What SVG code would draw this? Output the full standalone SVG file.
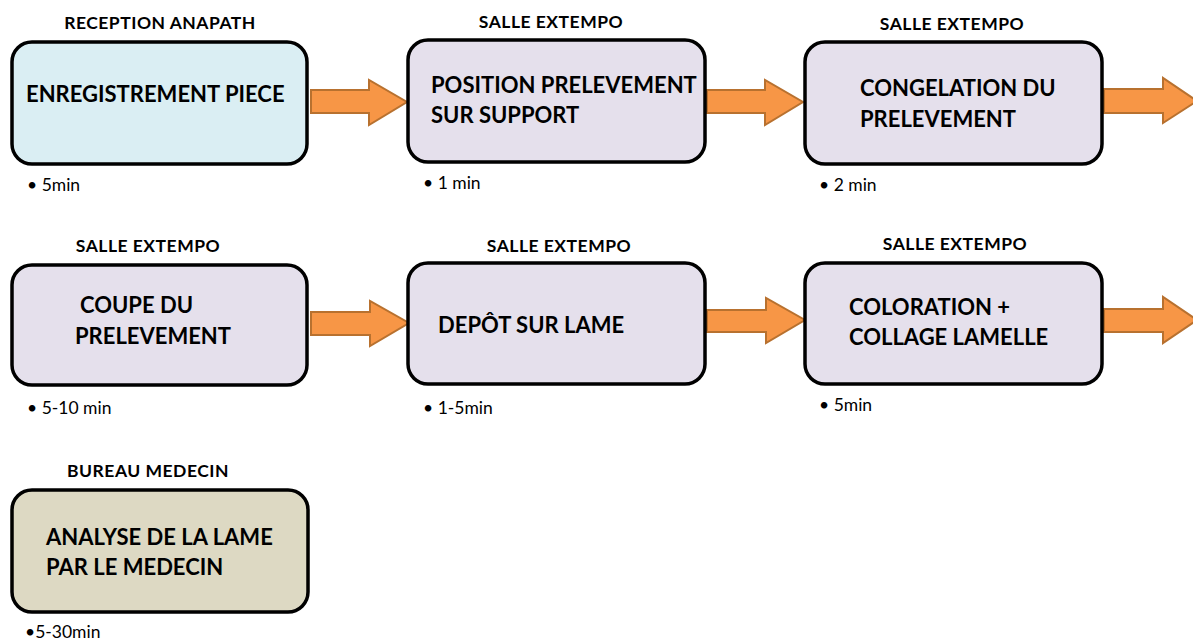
<svg xmlns="http://www.w3.org/2000/svg" width="1193" height="642" viewBox="0 0 1193 642">
<defs>
<style>
.box{stroke:#000;stroke-width:3.5}
.blue{fill:#DAEEF3}
.lav{fill:#E5E0EC}
.tan{fill:#DDD9C3}
.loc{font-family:Lato,"Liberation Sans",sans-serif;font-weight:bold;font-size:17.5px;letter-spacing:0.5px;fill:#000;text-anchor:middle}
.main{font-family:Lato,"Liberation Sans",sans-serif;font-weight:bold;font-size:22px;fill:#000}
.dur{font-family:Lato,"Liberation Sans",sans-serif;font-size:17.5px;fill:#000}
.arr{fill:#F79646;stroke:#B8712F;stroke-width:2;stroke-linejoin:miter}
</style>
</defs>
<rect width="1193" height="642" fill="#fff"/>
<g id="connectors">
<path class="arr" d="M311,90 H369 V80 L407,102 L369,125 V113 H311 Z"/>
<path class="arr" d="M707,90 H765 V80 L803,102 L765,125 V113 H707 Z"/>
<path class="arr" d="M1104,89 H1163 V78 L1197,101 L1163,123 V113 H1104 Z"/>
<path class="arr" d="M311,312 H370 V301 L409,323 L370,346 V335 H311 Z"/>
<path class="arr" d="M707,310 H766 V298 L805,320 L766,343 V332 H707 Z"/>
<path class="arr" d="M1104,309 H1163 V297 L1197,320 L1163,343 V332 H1104 Z"/>
</g>
<g id="n1">
<text class="loc" x="160" y="29">RECEPTION ANAPATH</text>
<rect class="box blue" x="12" y="42" width="295" height="122" rx="20"/>
<text class="main" x="26" y="102">ENREGISTREMENT PIECE</text>
<text class="dur" x="27" y="191">• 5min</text>
</g>
<g id="n2">
<text class="loc" x="551" y="28">SALLE EXTEMPO</text>
<rect class="box lav" x="408" y="40" width="297" height="122" rx="20"/>
<text class="main" x="431" y="93">POSITION PRELEVEMENT</text>
<text class="main" x="431" y="123">SUR SUPPORT</text>
<text class="dur" x="423" y="189">• 1 min</text>
</g>
<g id="n3">
<text class="loc" x="952" y="30">SALLE EXTEMPO</text>
<rect class="box lav" x="805" y="42" width="297" height="122" rx="20"/>
<text class="main" x="860" y="96">CONGELATION DU</text>
<text class="main" x="860" y="127">PRELEVEMENT</text>
<text class="dur" x="819" y="191">• 2 min</text>
</g>
<g id="n4">
<text class="loc" x="148" y="252">SALLE EXTEMPO</text>
<rect class="box lav" x="12" y="265" width="295" height="120" rx="20"/>
<text class="main" x="80" y="313">COUPE DU</text>
<text class="main" x="75" y="344">PRELEVEMENT</text>
<text class="dur" x="27" y="414">• 5-10 min</text>
</g>
<g id="n5">
<text class="loc" x="559" y="252">SALLE EXTEMPO</text>
<rect class="box lav" x="408" y="263" width="297" height="121" rx="20"/>
<text class="main" x="438" y="333">DEPÔT SUR LAME</text>
<text class="dur" x="423" y="414">• 1-5min</text>
</g>
<g id="n6">
<text class="loc" x="955" y="250">SALLE EXTEMPO</text>
<rect class="box lav" x="805" y="263" width="297" height="121" rx="20"/>
<text class="main" x="849" y="315">COLORATION +</text>
<text class="main" x="849" y="345">COLLAGE LAMELLE</text>
<text class="dur" x="819" y="411">• 5min</text>
</g>
<g id="n7">
<text class="loc" x="148" y="477">BUREAU MEDECIN</text>
<rect class="box tan" x="12" y="490" width="296" height="122" rx="20"/>
<text class="main" x="46" y="545">ANALYSE DE LA LAME</text>
<text class="main" x="46" y="575">PAR LE MEDECIN</text>
<text class="dur" x="25" y="638">•5-30min</text>
</g>
</svg>
